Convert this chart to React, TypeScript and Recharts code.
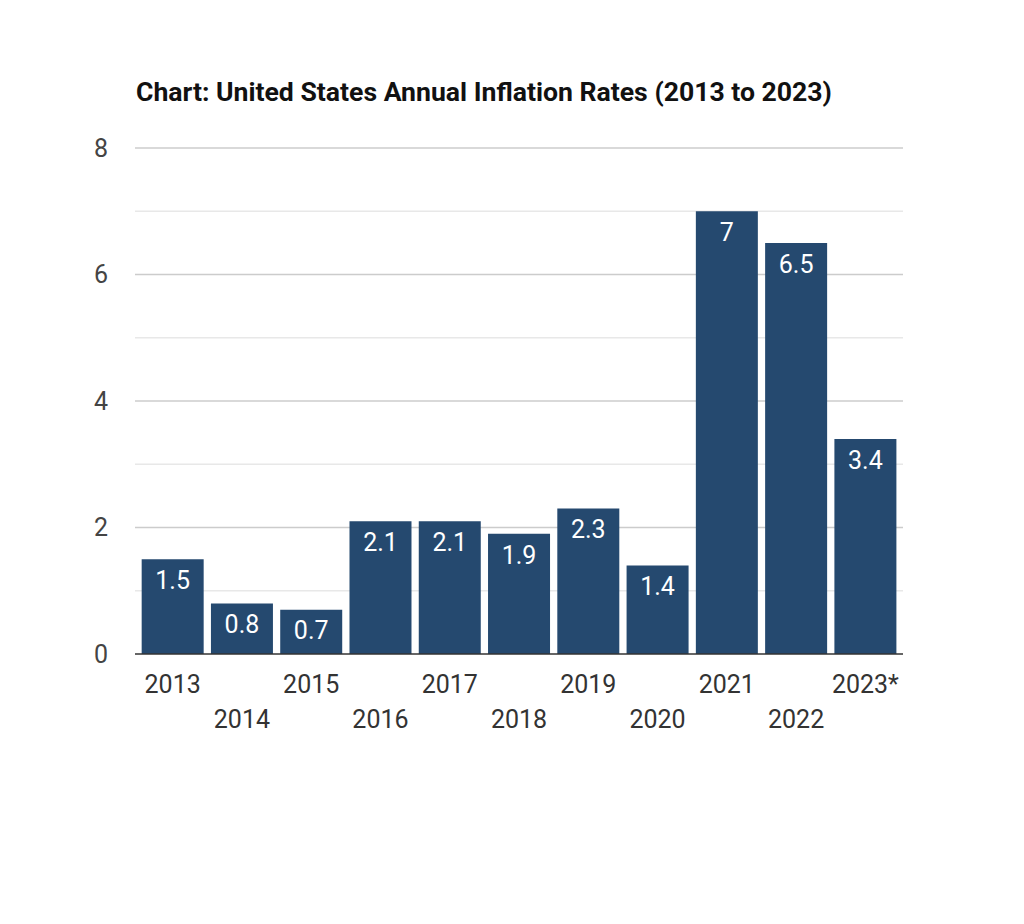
import React from "react";
import { BarChart, Bar, XAxis, YAxis, CartesianGrid, LabelList } from "recharts";

const years = ["2013", "2014", "2015", "2016", "2017", "2018", "2019", "2020", "2021", "2022", "2023*"];
const rates = [1.5, 0.8, 0.7, 2.1, 2.1, 1.9, 2.3, 1.4, 7, 6.5, 3.4];
const majorTicks = [0, 2, 4, 6, 8];
const minorTicks = [1, 3, 5, 7];

const data = years.map((y, i) => ({ year: y, rate: rates[i] }));

const FONT = "Roboto, 'Noto Sans', sans-serif";

const XTick = (props: any) => {
  const { x, y, payload, index } = props;
  const dy = index % 2 === 0 ? 37 : 72;
  return (
    <text x={x} y={y + dy} textAnchor="middle" fontSize={25} fontFamily={FONT} fill="#333">
      {payload.value}
    </text>
  );
};

export default function App() {
  return (
    <div style={{ position: "relative", width: 1008, height: 908, fontFamily: FONT }}>
      <div
        style={{
          position: "absolute",
          left: 128,
          top: 70,
          fontSize: 26.6,
          fontWeight: 700,
          color: "#111",
          whiteSpace: "nowrap",
          lineHeight: "28px",
        }}
      >
        Chart: United States Annual Inflation Rates (2013 to 2023)
      </div>
      <div style={{ position: "absolute", left: 0, top: 0 }}>
        <BarChart
          width={1008}
          height={736}
          data={data}
          margin={{ top: 140, right: 113, bottom: 10, left: 67 }}
          barCategoryGap="5.3%"
        >
          <CartesianGrid vertical={false} horizontalValues={minorTicks} stroke="#e8e8e8" strokeWidth={1.5} />
          <CartesianGrid vertical={false} horizontalValues={[2, 4, 6, 8]} stroke="#cccccc" strokeWidth={1.5} />
          <XAxis
            dataKey="year"
            height={80}
            interval={0}
            padding={{ left: 3, right: 3 }}
            tickLine={false}
            tickSize={0}
            tick={<XTick />}
            axisLine={{ stroke: "#333", strokeWidth: 1.5 }}
          />
          <YAxis
            width={60}
            domain={[0, 8]}
            ticks={majorTicks}
            axisLine={false}
            tickLine={false}
            tickSize={0}
            tickMargin={27}
            tick={{ fontSize: 25, fill: "#444", fontFamily: FONT }}
          />
          <Bar dataKey="rate" fill="#25496f" isAnimationActive={false}>
            <LabelList dataKey="rate" position="insideTop" offset={12} fill="#ffffff" fontSize={25} fontFamily={FONT} />
          </Bar>
        </BarChart>
      </div>
    </div>
  );
}
